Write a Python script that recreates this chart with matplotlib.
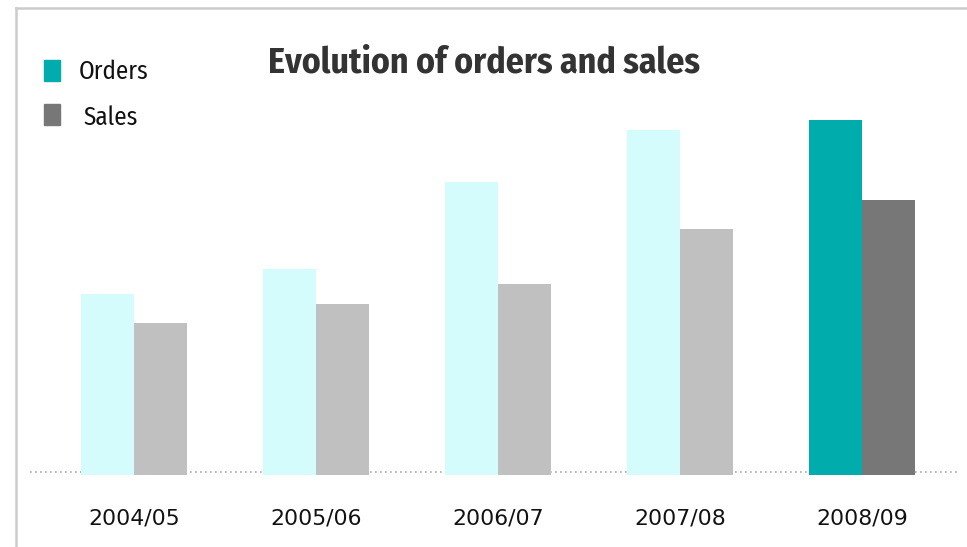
import numpy as np
import matplotlib
matplotlib.use("Agg")
from matplotlib import pyplot as plt
from matplotlib.lines import Line2D
from matplotlib.patches import Rectangle

# yearly figures
periods = ["2004/05", "2005/06", "2006/07", "2007/08", "2008/09"]
orders = [181, 206, 293, 345, 355]
sales = [152, 171, 191, 246, 275]

orders_light = "#d4fcfc"
sales_light = "#c0c0c0"
orders_dark = "#00acac"
sales_dark = "#777777"

cond = ["Fira Sans Condensed", "DejaVu Sans"]

W, H = 967, 547
fig = plt.figure(figsize=(W / 100, H / 100), dpi=100)

# axes placed in pixels: baseline at y=475, from x=30 to x=960
ax = fig.add_axes([30 / W, (H - 475) / H, 930 / W, 375 / H])
x = np.arange(len(periods))
w = 0.291
last = len(periods) - 1
o_cols = [orders_dark if i == last else orders_light for i in x]
s_cols = [sales_dark if i == last else sales_light for i in x]
ax.bar(x - w / 2, orders, w, color=o_cols, zorder=2)
ax.bar(x + w / 2, sales, w, color=s_cols, zorder=2)
ax.axhline(3, color="#aaaaaa", lw=1.2, ls=(0, (1, 2)), zorder=1)

ax.set_xlim(-0.571, 4.538)
ax.set_ylim(0, 375)
ax.set_xticks(x)
ax.set_xticklabels(periods, fontsize=15.8, color="#111111", family="DejaVu Sans")
ax.tick_params(axis="x", length=0, pad=24)
ax.set_yticks([])
for s in ax.spines.values():
    s.set_visible(False)

# frame lines along top and left
fig.add_artist(Line2D([16 / W, 1], [1 - 8 / H, 1 - 8 / H], color="#cccccc", lw=1.8))
fig.add_artist(Line2D([16 / W, 16 / W], [0, 1 - 8 / H], color="#cccccc", lw=1.8))

fig.text(268 / W, 1 - 63 / H, "Evolution of orders and sales", fontsize=25.7,
         fontweight="bold", color="#333333", va="center", ha="left", family=cond)

# legend
fig.add_artist(Rectangle((44 / W, 1 - 81 / H), 16 / W, 21 / H, color=orders_dark,
                         transform=fig.transFigure))
fig.add_artist(Rectangle((44 / W, 1 - 125 / H), 16 / W, 21 / H, color=sales_dark,
                         transform=fig.transFigure))
fig.text(79 / W, 1 - 72 / H, "Orders", fontsize=18, va="center", ha="left",
         color="#111111", family=cond)
fig.text(83 / W, 1 - 118 / H, "Sales", fontsize=18, va="center", ha="left",
         color="#111111", family=cond)

fig.savefig("out.png", dpi=100)
